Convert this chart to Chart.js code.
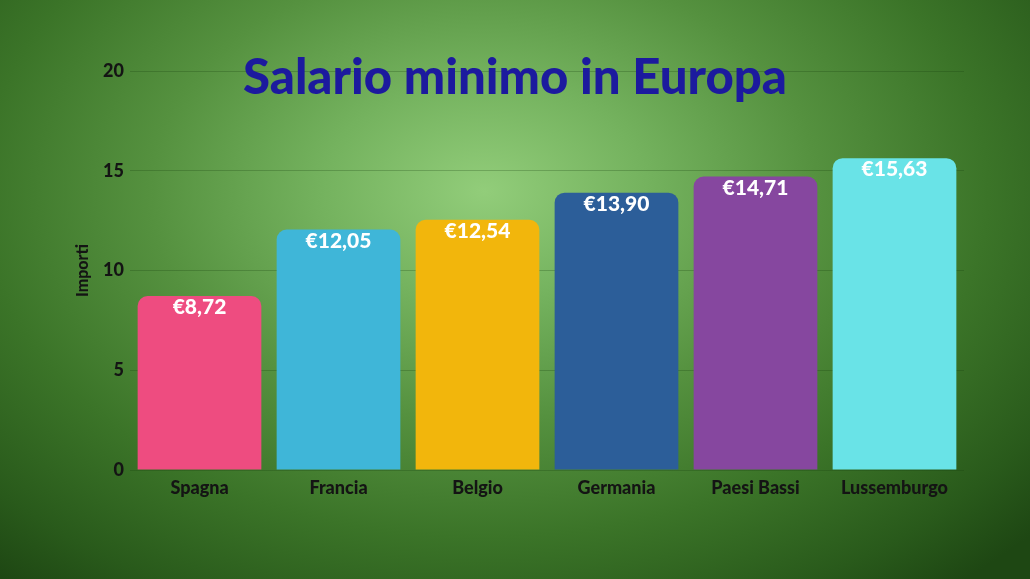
<!DOCTYPE html>
<html>
<head>
<meta charset="utf-8">
<script src="https://cdn.jsdelivr.net/npm/chart.js@4"></script>
<style>
  html, body { margin: 0; padding: 0; }
  body {
    width: 1030px; height: 579px; overflow: hidden;
    background: radial-gradient(ellipse 72% 88% at 47% 33%, #92cd7a 0%, #74b25e 22%, #55913f 45%, #3b7428 68%, #295a1b 88%, #1e4713 100%);
  }
  #wrap { position: relative; width: 1030px; height: 579px; }
</style>
</head>
<body>
<div id="wrap"><canvas id="c" width="1030" height="579"></canvas></div>
<script>
const categories = ["Spagna", "Francia", "Belgio", "Germania", "Paesi Bassi", "Lussemburgo"];
const values = [8.72, 12.05, 12.54, 13.90, 14.71, 15.63];
const valueLabels = ["€8,72", "€12,05", "€12,54", "€13,90", "€14,71", "€15,63"];
const barColors = ["#ee4c80", "#3fb6d8", "#f2b60c", "#2c5e99", "#86479f", "#69e3e7"];
const titleText = "Salario minimo in Europa";
const yAxisTitle = "Importi";
const yTicks = [0, 5, 10, 15, 20];

const FONT = "Lato, 'Open Sans', sans-serif";

const labelPlugin = {
  id: 'valueLabels',
  afterDatasetsDraw(chart) {
    const ctx = chart.ctx;
    const meta = chart.getDatasetMeta(0);
    ctx.save();
    ctx.fillStyle = '#ffffff';
    ctx.font = "900 21px " + FONT;
    ctx.textAlign = 'center';
    ctx.textBaseline = 'alphabetic';
    meta.data.forEach((bar, i) => {
      ctx.fillText(valueLabels[i], bar.x, bar.y + 18);
    });
    ctx.restore();
  }
};

const titlePlugin = {
  id: 'overlayTitle',
  afterDatasetsDraw(chart) {
    const ctx = chart.ctx;
    ctx.save();
    ctx.fillStyle = '#1c1a9e';
    ctx.font = "900 46px " + FONT;
    ctx.textAlign = 'center';
    ctx.textBaseline = 'alphabetic';
    const w = ctx.measureText(titleText).width;
    const target = 544;
    const size = 46 * target / w;
    ctx.font = "900 " + size.toFixed(1) + "px " + FONT;
    ctx.fillText(titleText, 515, 94);
    ctx.restore();
  }
};

new Chart(document.getElementById('c'), {
  type: 'bar',
  data: {
    labels: categories,
    datasets: [{
      data: values,
      backgroundColor: barColors,
      borderRadius: 10,
      borderSkipped: 'start',
      barPercentage: 0.89,
      categoryPercentage: 1.0
    }]
  },
  options: {
    responsive: false,
    animation: false,
    devicePixelRatio: 1,
    layout: { padding: { top: 71, right: 66, left: 0, bottom: 0 } },
    plugins: {
      legend: { display: false },
      tooltip: { enabled: false },
      title: { display: false }
    },
    scales: {
      x: {
        grid: { display: false, drawTicks: false },
        border: { display: false },
        ticks: {
          color: '#141414',
          font: { family: FONT, size: 18, weight: '900' },
          padding: 7
        },
        afterFit(scale) { scale.height = 579 - 470; }
      },
      y: {
        min: 0, max: 20,
        afterBuildTicks(scale) { scale.ticks = yTicks.map(v => ({ value: v })); },
        grid: { color: 'rgba(20,60,10,0.25)', lineWidth: 1, drawTicks: false },
        border: { display: false },
        ticks: {
          color: '#141414',
          font: { family: FONT, size: 18, weight: '900' },
          padding: 6
        },
        title: {
          display: true,
          text: yAxisTitle,
          color: '#141414',
          font: { family: FONT, size: 16, weight: '900' },
          padding: { top: 73, bottom: 0 }
        },
        afterFit(scale) { scale.width = 130; }
      }
    }
  },
  plugins: [labelPlugin, titlePlugin]
});
</script>
</body>
</html>
